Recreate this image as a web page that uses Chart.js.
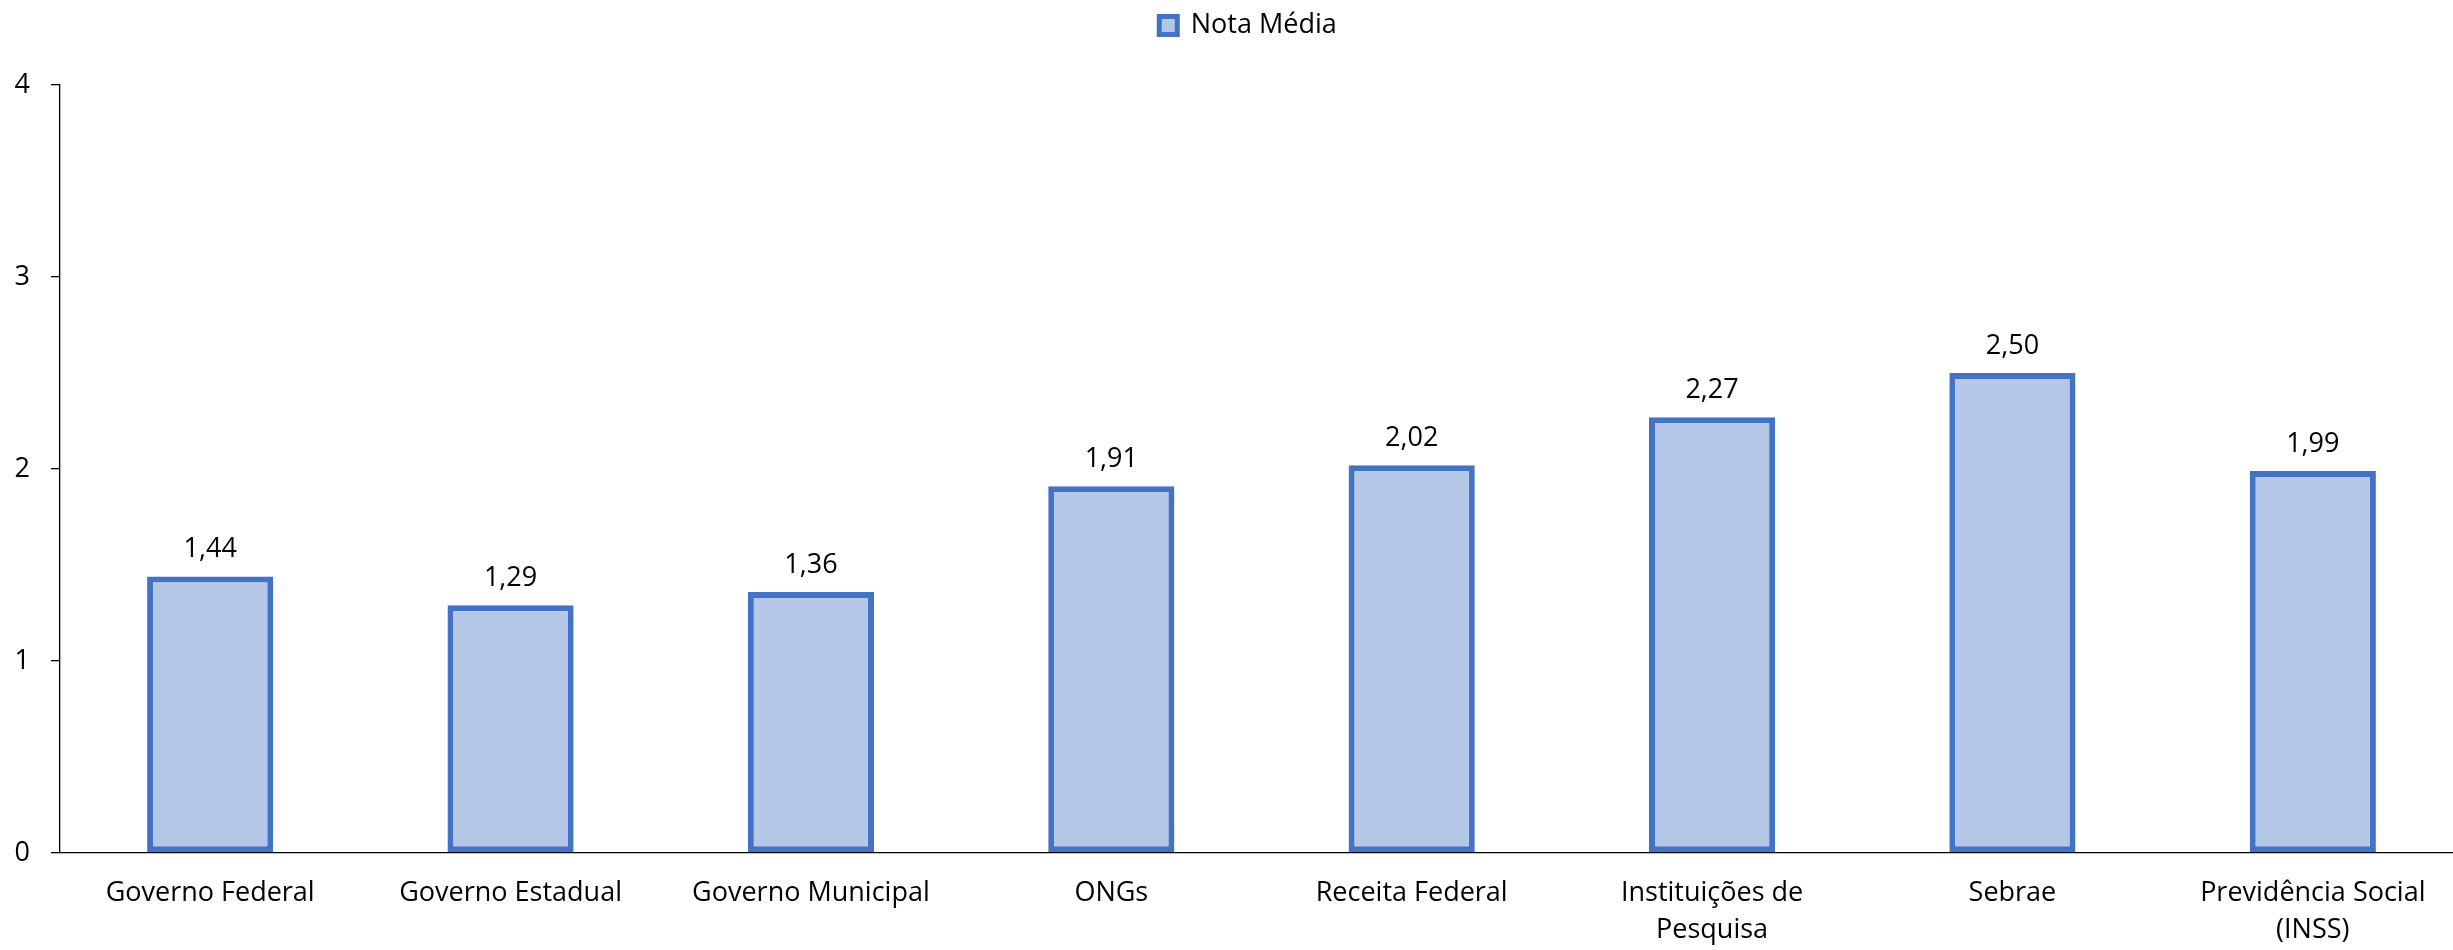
<!DOCTYPE html>
<html>
<head>
<meta charset="utf-8">
<script src="https://cdn.jsdelivr.net/npm/chart.js@4.4.0/dist/chart.umd.min.js"></script>
<style>
  html, body { margin: 0; padding: 0; background: #fff; overflow: hidden; }
  #wrap { width: 2496px; height: 950px; }
</style>
</head>
<body>
<div id="wrap"><canvas id="chart" width="2496" height="950"></canvas></div>
<script>
// --- Data ---
const categories = [
    'Governo Federal',
    'Governo Estadual',
    'Governo Municipal',
    'ONGs',
    'Receita Federal',
    ['Instituições de', 'Pesquisa'],
    'Sebrae',
    ['Previdência Social', '(INSS)']
];
const seriesName = 'Nota Média';
const notaMedia = [1.44, 1.29, 1.36, 1.91, 2.02, 2.27, 2.50, 1.99];
const yTicks = [0, 1, 2, 3, 4];

// --- Styles ---
const FONT = "'Open Sans', 'Noto Sans', sans-serif";
const FONT_SIZE = 27;
const BAR_BORDER = '#4472C4';
const BAR_FILL = '#B4C7E7';

// draws the value above each bar, with a decimal comma
const valueLabels = {
    id: 'valueLabels',
    afterDatasetsDraw(chart) {
        const ctx = chart.ctx;
        const meta = chart.getDatasetMeta(0);
        ctx.save();
        ctx.font = `${FONT_SIZE}px ${FONT}`;
        ctx.fillStyle = '#000';
        ctx.textAlign = 'center';
        ctx.textBaseline = 'middle';
        meta.data.forEach((bar, i) => {
            const v = chart.data.datasets[0].data[i];
            ctx.fillText(v.toFixed(2).replace('.', ','), bar.x, bar.y - 27);
        });
        ctx.restore();
    }
};

new Chart(document.getElementById('chart'), {
    type: 'bar',
    data: {
        labels: categories,
        datasets: [{
            label: seriesName,
            data: notaMedia,
            backgroundColor: BAR_FILL,
            borderColor: BAR_BORDER,
            borderWidth: 6,
            borderSkipped: false,
            barPercentage: 0.42,
            categoryPercentage: 1
        }]
    },
    options: {
        responsive: false,
        animation: false,
        layout: { padding: 0 },
        plugins: {
            legend: {
                position: 'top',
                labels: {
                    font: { family: FONT, size: FONT_SIZE },
                    color: '#000',
                    boxWidth: 18,
                    boxHeight: 18,
                    padding: 12,
                    generateLabels(chart) {
                        const items = Chart.defaults.plugins.legend.labels.generateLabels(chart);
                        items.forEach(it => { it.lineWidth = 5; });
                        return items;
                    }
                }
            },
            tooltip: { enabled: false }
        },
        scales: {
            x: {
                z: 1,
                grid: { display: false, drawTicks: false },
                border: { display: true, color: '#000', width: 1.3 },
                ticks: {
                    autoSkip: false,
                    maxRotation: 0,
                    padding: 22,
                    color: '#000',
                    font: { family: FONT, size: FONT_SIZE, lineHeight: 1.37 }
                },
                afterFit(s) { s.height = 97; }
            },
            x2: {
                position: 'top',
                display: true,
                grid: { display: false, drawTicks: false },
                border: { display: false },
                ticks: { display: false },
                afterFit(s) { s.height = 36; }
            },
            y: {
                min: yTicks[0],
                max: yTicks[yTicks.length - 1],
                afterBuildTicks(s) { s.ticks = yTicks.map(v => ({ value: v })); },
                grid: {
                    drawOnChartArea: false,
                    drawTicks: true,
                    tickLength: 9,
                    color: '#000',
                    lineWidth: 1.3
                },
                border: { display: true, color: '#000', width: 1.3 },
                ticks: {
                    padding: 21,
                    color: '#000',
                    font: { family: FONT, size: FONT_SIZE }
                },
                afterFit(s) { s.width = 60; }
            },
            y2: {
                position: 'right',
                display: true,
                grid: { display: false, drawTicks: false },
                border: { display: false },
                ticks: { display: false },
                afterFit(s) { s.width = 33; }
            }
        }
    },
    plugins: [valueLabels]
});
</script>
</body>
</html>
